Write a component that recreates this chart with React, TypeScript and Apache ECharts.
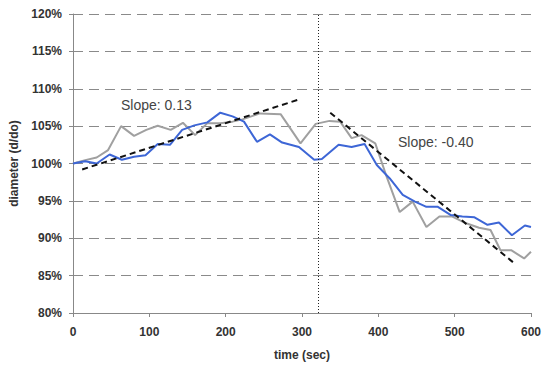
import React, { useEffect, useRef } from "react";
import * as echarts from "echarts";

const yTicks = [80, 85, 90, 95, 100, 105, 110, 115, 120];
const xTicks = [0, 100, 200, 300, 400, 500, 600];

const blueSeries: [number, number][] = [
  [0, 100], [16, 100.3], [31, 100], [48, 101.2], [64, 100.5], [80, 100.9], [95, 101.1],
  [111, 102.6], [127, 102.5], [143, 104.5], [159, 105.1], [176, 105.5], [193, 106.8],
  [209, 106.3], [224, 105.6], [241, 102.9], [258, 103.9], [274, 102.8], [296, 102.2],
  [316, 100.5], [326, 100.6], [348, 102.5], [365, 102.2], [382, 102.6], [398, 99.8],
  [415, 98], [432, 95.8], [448, 94.9], [463, 94.2], [478, 94.2], [495, 93.1], [510, 92.9],
  [526, 92.8], [543, 91.8], [558, 92.1], [575, 90.4], [592, 91.7], [600, 91.5],
];

const graySeries: [number, number][] = [
  [0, 100], [16, 100.45], [31, 100.8], [46, 101.8], [63, 105], [80, 103.7], [96, 104.5],
  [111, 105.05], [128, 104.5], [144, 105.45], [160, 103.8], [176, 105.4], [193, 105.4],
  [209, 105.6], [222, 105.9], [245, 106.7], [272, 106.6], [298, 102.7], [318, 105.3],
  [336, 105.7], [350, 105.6], [365, 103.4], [378, 103.8], [396, 102.7], [411, 98.2],
  [428, 93.5], [445, 94.9], [463, 91.5], [480, 92.9], [497, 92.9], [515, 92], [532, 91.4],
  [547, 91.1], [560, 88.4], [574, 88.4], [591, 87.3], [600, 88.2],
];

const trend1: [number, number][] = [[12, 99.2], [294, 108.5]];
const trend2: [number, number][] = [[337, 106.8], [580, 86.5]];
const eventTime = 321;
const slopeLabels = ["Slope: 0.13", "Slope: -0.40"];

const FONT = "'Liberation Sans', Arial, sans-serif";

export default function App() {
  const ref = useRef<HTMLDivElement>(null);
  useEffect(() => {
    if (!ref.current) return;
    const chart = echarts.init(ref.current, null, { renderer: "svg" });
    const trendStyle = { color: "#111", width: 2, type: [6, 4] as any };
    chart.setOption({
      animation: false,
      backgroundColor: "#fff",
      grid: { left: 71, right: 12, top: 14, bottom: 53 },
      xAxis: {
        type: "value",
        min: xTicks[0],
        max: xTicks[xTicks.length - 1],
        interval: 100,
        name: "time (sec)",
        nameLocation: "middle",
        nameGap: 36,
        nameTextStyle: { fontFamily: FONT, fontWeight: "bold", fontSize: 12, color: "#333" },
        axisLine: { lineStyle: { color: "#888", width: 1 } },
        axisTick: { show: true, length: 4, lineStyle: { color: "#888" } },
        axisLabel: { fontFamily: FONT, fontWeight: "bold", fontSize: 12, color: "#333", margin: 13 },
        splitLine: { show: false },
      },
      yAxis: {
        type: "value",
        min: yTicks[0],
        max: yTicks[yTicks.length - 1],
        interval: 5,
        name: "diameter (d/do)",
        nameLocation: "middle",
        nameGap: 53,
        nameTextStyle: { fontFamily: FONT, fontWeight: "bold", fontSize: 12, color: "#333" },
        axisLine: { show: true, lineStyle: { color: "#888", width: 1 } },
        axisTick: { show: true, length: 4, lineStyle: { color: "#888" } },
        axisLabel: {
          fontFamily: FONT, fontWeight: "bold", fontSize: 12, color: "#333", margin: 11,
          formatter: (v: number) => v + "%",
        },
        splitLine: { show: true, lineStyle: { color: "#8a8a8a", width: 1, type: [10, 6] } },
      },
      series: [
        {
          type: "line",
          data: graySeries,
          symbol: "none",
          lineStyle: { color: "#a0a0a0", width: 2 },
          z: 3,
          markLine: {
            silent: true,
            symbol: "none",
            label: { show: false },
            lineStyle: { color: "#222", width: 1, type: [1, 2] },
            data: [{ xAxis: eventTime }],
          },
        },
        {
          type: "line",
          data: blueSeries,
          symbol: "none",
          lineStyle: { color: "#3d66d6", width: 2 },
          z: 4,
        },
        { type: "line", data: trend1, symbol: "none", lineStyle: trendStyle, z: 5 },
        { type: "line", data: trend2, symbol: "none", lineStyle: trendStyle, z: 5 },
      ],
      graphic: [
        {
          type: "text", x: 121, y: 105,
          style: { text: slopeLabels[0], fontFamily: FONT, fontSize: 14, fill: "#444", verticalAlign: "middle" },
        },
        {
          type: "text", x: 398, y: 142,
          style: { text: slopeLabels[1], fontFamily: FONT, fontSize: 14, fill: "#444", verticalAlign: "middle" },
        },
      ],
    });
    return () => chart.dispose();
  }, []);
  return <div ref={ref} style={{ width: 544, height: 366, position: "absolute", left: 0, top: 0 }} />;
}
